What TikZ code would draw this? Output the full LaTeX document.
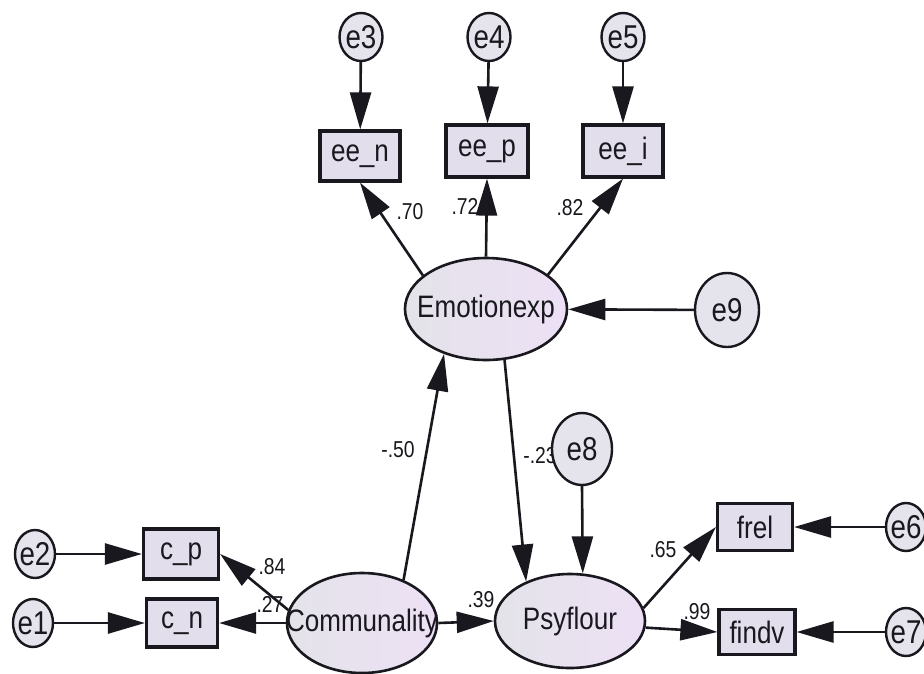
\documentclass[tikz,border=0pt]{standalone}
\usepackage{fontspec}
\setmainfont{Liberation Sans}
\newfontfamily\semfont[FakeStretch=0.84]{Liberation Sans}
\usetikzlibrary{shapes.geometric,arrows.meta,backgrounds}

\definecolor{ink}{RGB}{24,24,30}
\definecolor{boxfill}{RGB}{226,222,236}
\definecolor{errfill}{RGB}{229,227,236}
\definecolor{latleft}{RGB}{228,227,233}
\definecolor{latright}{RGB}{237,224,245}

\tikzset{
  latent/.style={ellipse, draw=ink, line width=2.6pt, left color=latleft,
    right color=latright, inner sep=0pt, text=ink,
    font=\semfont\fontsize{31}{33}\selectfont},
  obs/.style={rectangle, draw=ink, line width=3.2pt, fill=boxfill,
    inner sep=0pt, text=ink, font=\semfont\fontsize{31}{33}\selectfont},
  err/.style={ellipse, draw=ink, line width=2.4pt, fill=errfill,
    inner sep=0pt, text=ink, font=\semfont\fontsize{33}{35}\selectfont},
  coef/.style={inner sep=0pt, text=ink, font=\semfont\fontsize{23}{25}\selectfont},
  link/.style={draw=ink, line width=2.6pt, -{Triangle[length=37pt,width=21pt]}}
}

\begin{document}
\begin{tikzpicture}[x=1pt,y=-1pt]
\useasboundingbox (0,0) rectangle (924,673);

% path coefficients, kept under the nodes and arrows
\begin{scope}[on background layer]
  \fill[white] (0,0) rectangle (924,673);
  \node[coef] (k70) at (410,212) {.70};
  \node[coef] (k72) at (465,206) {.72};
  \node[coef] (k82) at (570,208) {.82};
  \node[coef] (k50) at (398,450) {-.50};
  \node[coef] (k23) at (540,456) {-.23};
  \node[coef] (k84) at (272,567) {.84};
  \node[coef] (k27) at (270,604) {.27};
  \node[coef] (k39) at (481,600) {.39};
  \node[coef] (k65) at (663,550) {.65};
  \node[coef] (k99) at (697,612) {.99};
\end{scope}

% latent variables
\node[latent, minimum width=162pt, minimum height=102pt] (em)  at (486,309) {\makebox[0pt]{Emotionexp}};
\node[latent, minimum width=150pt, minimum height=100pt] (com) at (362,623) {\makebox[0pt]{Communality}};
\node[latent, minimum width=150pt, minimum height=94pt]  (psy) at (570,621) {\makebox[0pt]{Psyflour}};

% observed indicators
\node[obs, minimum width=80pt, minimum height=50pt] (een)   at (360,156) {ee\_n};
\node[obs, minimum width=82pt, minimum height=52pt] (eep)   at (487,151) {ee\_p};
\node[obs, minimum width=80pt, minimum height=52pt] (eei)   at (623,151) {ee\_i};
\node[obs, minimum width=75pt, minimum height=50pt] (cp)    at (181,554) {c\_p};
\node[obs, minimum width=71pt, minimum height=48pt] (cn)    at (182,623) {c\_n};
\node[obs, minimum width=75pt, minimum height=47pt] (frel)  at (755,527) {frel};
\node[obs, minimum width=76pt, minimum height=45pt] (findv) at (757,632) {findv};

% error terms
\node[err, minimum width=43pt, minimum height=48pt] (e3) at (361,37) {\makebox[0pt]{e3}};
\node[err, minimum width=43pt, minimum height=48pt] (e4) at (489,37) {\makebox[0pt]{e4}};
\node[err, minimum width=43pt, minimum height=48pt] (e5) at (623,37) {\makebox[0pt]{e5}};
\node[err, minimum width=64pt, minimum height=74pt] (e9) at (727,310) {\makebox[0pt]{e9}};
\node[err, minimum width=60pt, minimum height=72pt] (e8) at (582,449) {\makebox[0pt]{e8}};
\node[err, minimum width=40pt, minimum height=48pt] (e2) at (35,554) {\makebox[0pt]{e2}};
\node[err, minimum width=40pt, minimum height=48pt] (e1) at (33,623) {\makebox[0pt]{e1}};
\node[err, minimum width=40pt, minimum height=48pt] (e6) at (906,527) {\makebox[0pt]{e6}};
\node[err, minimum width=40pt, minimum height=48pt] (e7) at (906,632) {\makebox[0pt]{e7}};

% measurement paths
\draw[link] (em.152) -- (een.south);
\draw[link] (em.north) -- (eep.south);
\draw[link] (em.29) -- (eei.south);
\draw[link] (com.170) -- (cp.east);
\draw[link] (com.west) -- (cn.east);
\draw[link] (psy.10) -- (frel.west);
\draw[link] (psy.355) -- (findv.west);

% structural paths
\draw[link] (com.46) -- (em.227);
\draw[link] (em.290) -- (psy.138);
\draw[link] (com.east) -- (psy.west);

% error paths
\draw[link] (e3) -- (een);
\draw[link] (e4) -- (eep);
\draw[link] (e5) -- (eei);
\draw[link] (e9) -- (em);
\draw[link] (e8.south) -- (psy.75);
\draw[link] (e2) -- (cp);
\draw[link] (e1) -- (cn);
\draw[link] (e6) -- (frel);
\draw[link] (e7) -- (findv);
\end{tikzpicture}
\end{document}
